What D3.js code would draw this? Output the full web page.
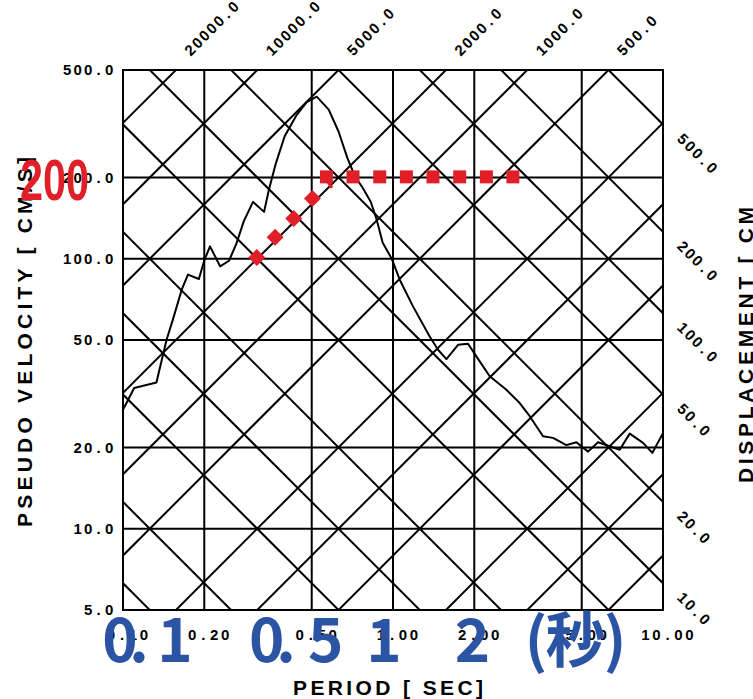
<!DOCTYPE html>
<html>
<head>
<meta charset="utf-8">
<script src="https://cdn.jsdelivr.net/npm/d3@7"></script>
<style>
  html, body { margin: 0; padding: 0; background: #fff; }
  svg { display: block; }
</style>
</head>
<body>
<svg id="chart" width="753" height="699"></svg>
<script>
// ---- axis ticks -------------------------------------------------------
const periodTicks = [0.1, 0.2, 0.5, 1, 2, 5, 10];
const periodTickLabels = ["0.10", "0.20", "0.50", "1.00", "2.00", "5.00", "10.00"];
const velocityTicks = [5, 10, 20, 50, 100, 200, 500];
const velocityTickLabels = ["5.0", "10.0", "20.0", "50.0", "100.0", "200.0", "500.0"];
const periodGrid = [0.2, 0.5, 1, 2, 5];
const velocityGrid = [10, 20, 50, 100, 200];

// ---- tripartite guide lines --------------------------------------------
const displacementLines = [0.1, 0.2, 0.5, 1, 2, 5, 10, 20, 50, 100, 200, 500];          // cm
const accelerationLines = [5, 10, 20, 50, 100, 200, 500, 1000, 2000, 5000, 10000, 20000]; // cm/s^2
const displacementLabels = [500, 200, 100, 50, 20, 10];
const accelerationLabels = [20000, 10000, 5000, 2000, 1000, 500];

// ---- pseudo-velocity response spectrum ---------------------------------
const specPeriod = [0.100, 0.110, 0.133, 0.145, 0.153, 0.165, 0.174, 0.191, 0.200, 0.210,
  0.229, 0.247, 0.263, 0.280, 0.303, 0.333, 0.347, 0.367, 0.397, 0.438,
  0.479, 0.522, 0.578, 0.629, 0.677, 0.721, 0.772, 0.827, 0.870, 0.916,
  0.989, 1.059, 1.186, 1.367, 1.468, 1.577, 1.741, 1.896, 2.036, 2.281,
  2.630, 2.946, 3.209, 3.594, 3.913, 4.388, 4.779, 5.276, 5.745, 6.346,
  6.913, 7.530, 8.434, 9.136, 10.0];
const specVelocity = [27.6, 33.2, 34.8, 50.1, 59.5, 76.8, 87.3, 84.1, 98.5, 111.1,
  93.7, 98.3, 113.7, 137.5, 162.4, 149.1, 180.1, 223, 284.3, 338.6,
  380, 398.2, 356.5, 295.3, 236.7, 203, 183.2, 162.6, 139.5, 114.6,
  100, 83.6, 66.6, 51.5, 46.0, 42.5, 48.0, 48.4, 43.5, 36.7,
  32.7, 29.2, 26.1, 22.0, 21.7, 20.4, 20.9, 19.3, 20.9, 20.2,
  19.6, 22.5, 20.8, 19.1, 22.6];

// ---- design level markers ----------------------------------------------
const rampPeriod = [0.313, 0.366, 0.429, 0.503];
const rampVelocity = [101, 120, 141, 167];
const plateauPeriod = [0.567, 0.711, 0.893, 1.121, 1.406, 1.766, 2.218, 2.78];
const plateauVelocity = [201, 201, 201, 201, 201, 201, 201, 201];
const cornerDashPeriod = [0.573, 0.594];
const cornerDashVelocity = [193, 183];

// ---- overlay notes -----------------------------------------------------
const periodNotes = ["0.1", "0.5", "1", "2", "(秒)"];
const levelNote = "200";

// ------------------------------------------------------------------------
const LEFT = 123, TOP = 70, SIZE = 540;
const RIGHT = LEFT + SIZE, BOTTOM = TOP + SIZE;
const TWO_PI = 2 * Math.PI;
const RED = "#e11f28", BLUE = "#2b54a5";
const SANS = "'Liberation Sans', Arial, sans-serif";
const CJK = "'Noto Sans CJK JP', 'Noto Sans', sans-serif";
const INK = 3.8; // half the ink width of a tick-label digit

const x = d3.scaleLog().domain([0.1, 10]).range([LEFT, RIGHT]);
const y = d3.scaleLog().domain([5, 500]).range([BOTTOM, TOP]);

// fixed-pitch character centres, in the text's own coordinates
const cells = (str, pitch, first) => Array.from(str).map((c, i) => (first + i * pitch).toFixed(2)).join(" ");

const svg = d3.select("#chart");
svg.append("rect").attr("width", 753).attr("height", 699).attr("fill", "#fff");

svg.append("defs").append("clipPath").attr("id", "plotClip")
  .append("rect").attr("x", LEFT).attr("y", TOP).attr("width", SIZE).attr("height", SIZE);

const plot = svg.append("g").attr("clip-path", "url(#plotClip)");

// rectangular grid
plot.selectAll("line.vgrid").data(periodGrid).join("line")
  .attr("x1", d => x(d)).attr("x2", d => x(d)).attr("y1", TOP).attr("y2", BOTTOM)
  .attr("stroke", "#000").attr("stroke-width", 2);
plot.selectAll("line.hgrid").data(velocityGrid).join("line")
  .attr("y1", d => y(d)).attr("y2", d => y(d)).attr("x1", LEFT).attr("x2", RIGHT)
  .attr("stroke", "#000").attr("stroke-width", 2);

// constant displacement: V = 2*pi*D / T ; constant acceleration: V = A*T / (2*pi)
const tA = 0.02, tB = 50;
plot.selectAll("line.disp").data(displacementLines).join("line")
  .attr("x1", x(tA)).attr("y1", d => y(TWO_PI * d / tA))
  .attr("x2", x(tB)).attr("y2", d => y(TWO_PI * d / tB))
  .attr("stroke", "#000").attr("stroke-width", 2);
plot.selectAll("line.acc").data(accelerationLines).join("line")
  .attr("x1", x(tA)).attr("y1", d => y(d * tA / TWO_PI))
  .attr("x2", x(tB)).attr("y2", d => y(d * tB / TWO_PI))
  .attr("stroke", "#000").attr("stroke-width", 2);

// spectrum curve
const spec = specPeriod.map((t, i) => [t, specVelocity[i]]);
plot.append("path").datum(spec)
  .attr("d", d3.line().x(d => x(d[0])).y(d => y(d[1])))
  .attr("fill", "none").attr("stroke", "#000").attr("stroke-width", 2)
  .attr("stroke-linejoin", "round");

// frame
svg.append("rect").attr("x", LEFT).attr("y", TOP).attr("width", SIZE).attr("height", SIZE)
  .attr("fill", "none").attr("stroke", "#000").attr("stroke-width", 2);

// tick labels (fixed pitch)
const tickFont = sel => sel.attr("font-family", SANS).attr("font-weight", "bold")
  .attr("font-size", 15).attr("fill", "#000").attr("text-anchor", "middle");

const vPitch = 10.5;
svg.selectAll("text.vlab").data(velocityTicks).join("text")
  .call(tickFont)
  .attr("x", (d, i) => {
    const s = velocityTickLabels[i];
    return cells(s, vPitch, LEFT - 10 - INK - (s.length - 1) * vPitch);
  })
  .attr("y", d => y(d) + 5.3)
  .text((d, i) => velocityTickLabels[i]);

const pPitch = 11;
svg.selectAll("text.plab").data(periodTicks).join("text")
  .call(tickFont)
  .attr("x", (d, i) => {
    const s = periodTickLabels[i];
    return cells(s, pPitch, x(d) + 4.5 - (s.length - 1) * pPitch / 2);
  })
  .attr("y", BOTTOM + 30)
  .text((d, i) => periodTickLabels[i]);

// guide line labels along the extensions of the lines
const gPitch = 10.2;
svg.selectAll("text.alab").data(accelerationLabels).join("text")
  .call(tickFont)
  .attr("transform", d => `translate(${x(TWO_PI * 500 / d) + 15},${TOP - 13.6}) rotate(-45)`)
  .attr("x", d => cells(d.toFixed(1), gPitch, INK)).attr("y", 0)
  .text(d => d.toFixed(1));

svg.selectAll("text.dlab").data(displacementLabels).join("text")
  .call(tickFont)
  .attr("transform", d => `translate(${RIGHT + 13.6},${y(TWO_PI * d / 10) + 15.5}) rotate(45)`)
  .attr("x", d => cells(d.toFixed(1), gPitch, INK)).attr("y", 0)
  .text(d => d.toFixed(1));

// axis titles
svg.append("text")
  .attr("font-family", SANS).attr("font-weight", "bold").attr("font-size", 21)
  .attr("transform", `translate(32,342) rotate(-90)`)
  .attr("text-anchor", "middle").attr("textLength", 370).attr("lengthAdjust", "spacing")
  .text("PSEUDO VELOCITY [ CM/S]");
svg.append("text")
  .attr("font-family", SANS).attr("font-weight", "bold").attr("font-size", 21)
  .attr("transform", `translate(752.5,483) rotate(-90)`)
  .attr("textLength", 276).attr("lengthAdjust", "spacing")
  .text("DISPLACEMENT [ CM");
svg.append("text")
  .attr("font-family", SANS).attr("font-weight", "bold").attr("font-size", 21)
  .attr("x", 293).attr("y", 695)
  .attr("textLength", 190).attr("lengthAdjust", "spacing")
  .text("PERIOD [ SEC]");

// design level markers
const rs = 12, sq = 13;
svg.selectAll("rect.ramp").data(rampPeriod).join("rect")
  .attr("width", rs).attr("height", rs).attr("x", -rs / 2).attr("y", -rs / 2)
  .attr("transform", (d, i) => `translate(${x(d)},${y(rampVelocity[i])}) rotate(45)`)
  .attr("fill", RED);
svg.selectAll("rect.plateau").data(plateauPeriod).join("rect")
  .attr("width", sq).attr("height", sq)
  .attr("x", d => x(d) - sq / 2).attr("y", (d, i) => y(plateauVelocity[i]) - sq / 2)
  .attr("fill", RED);
svg.append("line")
  .attr("x1", x(cornerDashPeriod[0])).attr("y1", y(cornerDashVelocity[0]))
  .attr("x2", x(cornerDashPeriod[1])).attr("y2", y(cornerDashVelocity[1]))
  .attr("stroke", RED).attr("stroke-width", 3);

// overlay notes
const noteCenters = [[120, 139, 175], [266.7, 286, 325.8], [384], [472.5], [536, 575.5, 615]];
svg.selectAll("text.note").data(periodNotes).join("text")
  .attr("font-family", CJK).attr("font-weight", "bold").attr("font-size", 60)
  .attr("fill", BLUE).attr("text-anchor", "middle")
  .attr("x", (d, i) => noteCenters[i].join(" "))
  .attr("y", 662)
  .text(d => d);

svg.append("text")
  .attr("font-family", SANS).attr("font-weight", "bold").attr("font-size", 58)
  .attr("fill", RED).attr("x", 20).attr("y", 199.5)
  .attr("textLength", 69).attr("lengthAdjust", "spacingAndGlyphs")
  .text(levelNote);
</script>
</body>
</html>
